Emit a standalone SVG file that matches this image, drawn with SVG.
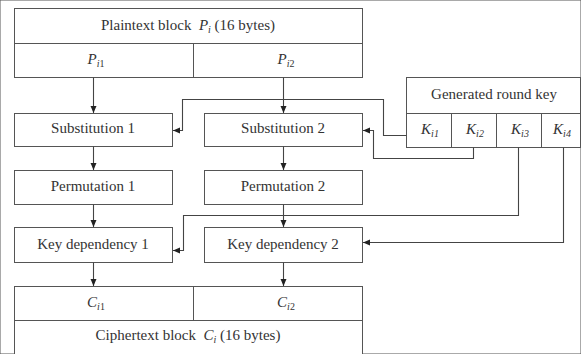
<svg xmlns="http://www.w3.org/2000/svg" width="581" height="354" viewBox="0 0 581 354">
<defs>
<style>
rect, .ln { fill: none; stroke: #555; stroke-width: 1; }
rect { fill: #fff; }
.conn { fill: none; stroke: #444; stroke-width: 1.1; }
text { font-family: "Liberation Serif", "Times New Roman", serif; font-size: 15px; fill: #333; text-anchor: middle; }
.it { font-style: italic; }
.sub { font-size: 10px; }
</style>
<marker id="ah" markerUnits="userSpaceOnUse" markerWidth="8" markerHeight="8" refX="7" refY="4" orient="auto">
<path d="M0,1 L7,4 L0,7 Z" fill="#222"/>
</marker>
</defs>
<rect x="0" y="0" width="581" height="354" fill="#fff" stroke="none"/>

<g id="plaintext">
<rect x="14.5" y="8.5" width="348" height="69"/>
<line class="ln" x1="14.5" y1="43.5" x2="362.5" y2="43.5"/>
<line class="ln" x1="193.5" y1="43.5" x2="193.5" y2="77.5"/>
<text x="188" y="30" xml:space="preserve">Plaintext block  <tspan class="it">P</tspan><tspan class="it sub" dy="3">i</tspan><tspan dy="-3"> (16 bytes)</tspan></text>
<text x="96" y="64"><tspan class="it">P</tspan><tspan class="sub" dy="3"><tspan class="it">i</tspan>1</tspan></text>
<text x="286" y="64"><tspan class="it">P</tspan><tspan class="sub" dy="3"><tspan class="it">i</tspan>2</tspan></text>
</g>

<g id="roundkey">
<rect x="406.5" y="77.5" width="174" height="70"/>
<line class="ln" x1="406.5" y1="113.5" x2="580.5" y2="113.5"/>
<line class="ln" x1="451.5" y1="113.5" x2="451.5" y2="147.5"/>
<line class="ln" x1="496.5" y1="113.5" x2="496.5" y2="147.5"/>
<line class="ln" x1="541.5" y1="113.5" x2="541.5" y2="147.5"/>
<text x="494" y="99">Generated round key</text>
<text x="430" y="134"><tspan class="it">K</tspan><tspan class="sub it" dy="3">i1</tspan></text>
<text x="475" y="134"><tspan class="it">K</tspan><tspan class="sub it" dy="3">i2</tspan></text>
<text x="520" y="134"><tspan class="it">K</tspan><tspan class="sub it" dy="3">i3</tspan></text>
<text x="562" y="134"><tspan class="it">K</tspan><tspan class="sub it" dy="3">i4</tspan></text>
</g>

<g id="sub1">
<rect x="14.5" y="113.5" width="158" height="33"/>
<text x="93" y="133">Substitution 1</text>
</g>
<g id="sub2">
<rect x="204.5" y="113.5" width="158" height="33"/>
<text x="283" y="133">Substitution 2</text>
</g>
<g id="perm1">
<rect x="14.5" y="170.5" width="158" height="34"/>
<text x="93" y="191">Permutation 1</text>
</g>
<g id="perm2">
<rect x="204.5" y="170.5" width="158" height="34"/>
<text x="283" y="191">Permutation 2</text>
</g>
<g id="kd1">
<rect x="14.5" y="227.5" width="158" height="35"/>
<text x="93" y="249">Key dependency 1</text>
</g>
<g id="kd2">
<rect x="204.5" y="227.5" width="158" height="35"/>
<text x="283" y="249">Key dependency 2</text>
</g>

<g id="ciphertext">
<rect x="14.5" y="286.5" width="348" height="80"/>
<line class="ln" x1="14.5" y1="320.5" x2="362.5" y2="320.5"/>
<line class="ln" x1="193.5" y1="286.5" x2="193.5" y2="320.5"/>
<text x="96" y="307"><tspan class="it">C</tspan><tspan class="sub" dy="3"><tspan class="it">i</tspan>1</tspan></text>
<text x="286" y="307"><tspan class="it">C</tspan><tspan class="sub" dy="3"><tspan class="it">i</tspan>2</tspan></text>
<text x="188" y="340" xml:space="preserve">Ciphertext block  <tspan class="it">C</tspan><tspan class="it sub" dy="3">i</tspan><tspan dy="-3"> (16 bytes)</tspan></text>
</g>

<g id="connectors">
<path class="conn" d="M93.5,77.5 V113" marker-end="url(#ah)"/>
<path class="conn" d="M283.5,77.5 V113" marker-end="url(#ah)"/>
<path class="conn" d="M93.5,146.5 V170" marker-end="url(#ah)"/>
<path class="conn" d="M283.5,146.5 V170" marker-end="url(#ah)"/>
<path class="conn" d="M93.5,204.5 V227" marker-end="url(#ah)"/>
<path class="conn" d="M283.5,204.5 V227" marker-end="url(#ah)"/>
<path class="conn" d="M93.5,262.5 V286" marker-end="url(#ah)"/>
<path class="conn" d="M283.5,262.5 V286" marker-end="url(#ah)"/>
<path class="conn" d="M406.5,135.5 H383.5 V99.5 H182.5 V130.5 H173" marker-end="url(#ah)"/>
<path class="conn" d="M473.5,147.5 V158.5 H373.5 V130.5 H363" marker-end="url(#ah)"/>
<path class="conn" d="M518.5,147.5 V215.5 H183.5 V250.5 H173" marker-end="url(#ah)"/>
<path class="conn" d="M563.5,147.5 V242.5 H363" marker-end="url(#ah)"/>
</g>
</svg>
